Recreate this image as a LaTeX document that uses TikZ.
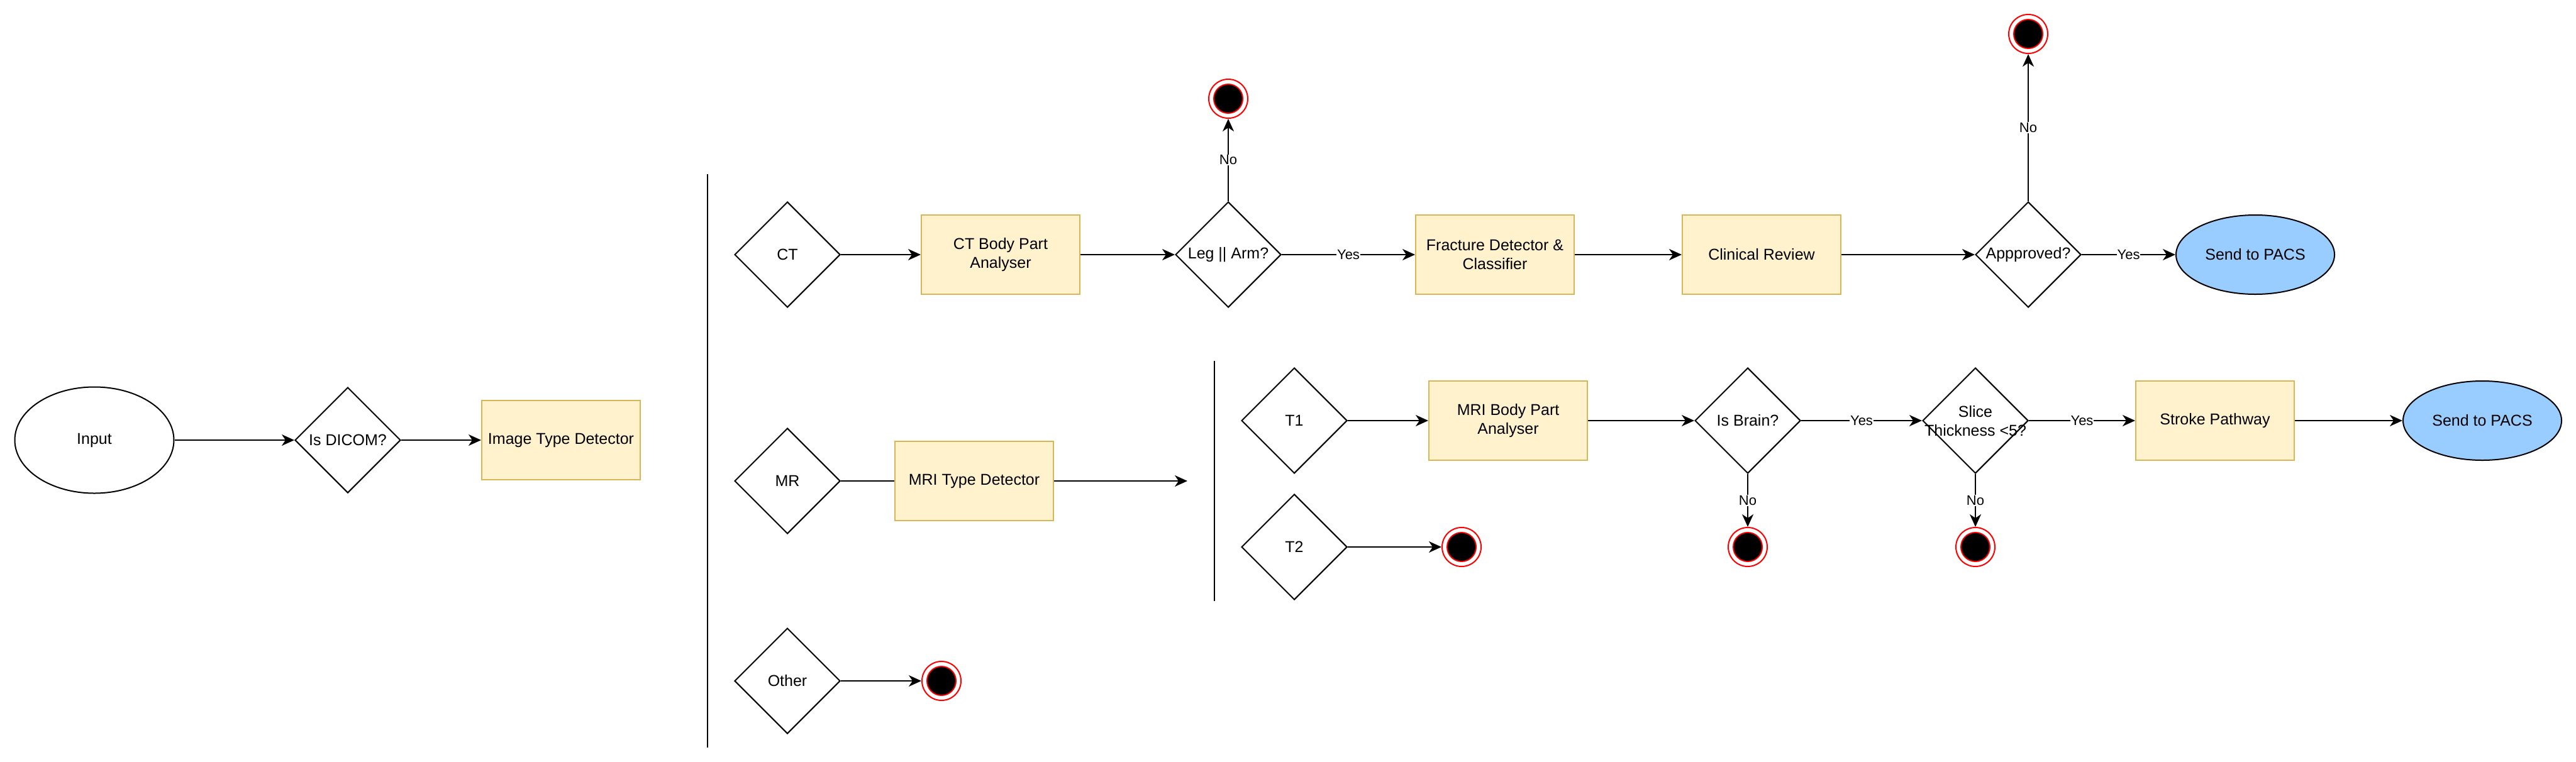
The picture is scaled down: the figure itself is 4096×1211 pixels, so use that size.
\documentclass[tikz,border=0pt]{standalone}
\usepackage{fontspec}
\setmainfont{Liberation Sans}
\usetikzlibrary{shapes.geometric,arrows.meta}
\definecolor{boxfill}{HTML}{FFF2CC}
\definecolor{boxline}{HTML}{D6B656}
\definecolor{pacsblue}{HTML}{99CCFF}
\definecolor{endred}{HTML}{FF0000}
\begin{document}
\begin{tikzpicture}[x=1pt,y=-1pt,
  every node/.style={font=\fontsize{25}{30}\selectfont},
  proc/.style={rectangle, draw=boxline, fill=boxfill, line width=2pt, minimum width=252pt, minimum height=126pt, inner sep=0pt, align=center},
  dec/.style={diamond, draw, line width=2pt, minimum width=168pt, minimum height=168pt, inner sep=0pt, align=center},
  term/.style={ellipse, draw, line width=2pt, inner sep=0pt, align=center},
  endst/.style={circle, draw=endred, fill=white, line width=2pt, minimum size=62pt, inner sep=0pt,
    path picture={\fill[endred] (path picture bounding box.center) circle (24pt);
                  \fill[black] (path picture bounding box.center) circle (22pt);}},
  flow/.style={line width=2pt, -{Stealth[length=20pt,width=18pt,inset=6pt]}},
  plain/.style={line width=2pt},
  lbl/.style={fill=white, inner sep=1pt, font=\fontsize{22}{26}\selectfont}
]
\useasboundingbox (0,0) rectangle (4096,1211);

% left part
\node[term, minimum width=253pt, minimum height=169pt] (input) at (150,700) {Input};
\node[dec] (dicom) at (553,700) {Is DICOM?};
\node[proc] (itd) at (892,700) {Image Type Detector};

% separators
\draw[plain] (1125,277) -- (1125,1189);
\draw[plain] (1931,574) -- (1931,956);

% CT row
\node[dec] (ct) at (1252,405) {CT};
\node[proc] (ctb) at (1591,405) {CT Body Part\\Analyser};
\node[dec] (leg) at (1953,405) {Leg || Arm?};
\node[endst] (end1) at (1953,157) {};
\node[proc] (frac) at (2377,405) {Fracture Detector \&\\Classifier};
\node[proc] (clin) at (2801,405) {Clinical Review};
\node[dec] (appr) at (3225,405) {Appproved?};
\node[endst] (end2) at (3225,54) {};
\node[term, fill=pacsblue, minimum width=252pt, minimum height=126pt] (pacs1) at (3586,405) {Send to PACS};

% MR row
\node[dec] (mr) at (1252,765) {MR};
\node[proc] (mrt) at (1549,765) {MRI Type Detector};
\coordinate (mrend) at (1888,765);

\node[dec] (t1) at (2058,669) {T1};
\node[proc] (mbp) at (2398,669) {MRI Body Part\\Analyser};
\node[dec] (brain) at (2779,669) {Is Brain?};
\node[endst] (end3) at (2779,870) {};
\node[dec] (slice) at (3141,669) {};
\node[endst] (end4) at (3141,870) {};
\node[proc] (stroke) at (3522,669) {Stroke Pathway};
\node[term, fill=pacsblue, minimum width=252pt, minimum height=126pt] (pacs2) at (3947,669) {Send to PACS};

\node[dec] (t2) at (2058,870) {T2};
\node[endst] (end5) at (2324,870) {};

% Other row
\node[dec] (other) at (1252,1083) {Other};
\node[endst] (end6) at (1497,1083) {};

% connectors
\draw[flow] (input) -- (dicom);
\draw[flow] (dicom) -- (itd);

\draw[flow] (ct) -- (ctb);
\draw[flow] (ctb) -- (leg);
\draw[flow] (leg) -- node[lbl] {Yes} (frac);
\draw[flow] (leg) -- node[lbl] {No} (end1);
\draw[flow] (frac) -- (clin);
\draw[flow] (clin) -- (appr);
\draw[flow] (appr) -- node[lbl] {Yes} (pacs1);
\draw[flow] (appr) -- node[lbl] {No} (end2);

\draw[plain] (mr) -- (mrt);
\draw[flow] (mrt) -- (mrend);

\draw[flow] (t1) -- (mbp);
\draw[flow] (mbp) -- (brain);
\draw[flow] (brain) -- node[lbl] {Yes} (slice);
\draw[flow] (brain) -- node[lbl] {No} (end3);
\draw[flow] (slice) -- node[lbl] {Yes} (stroke);
\draw[flow] (slice) -- node[lbl] {No} (end4);
\draw[flow] (stroke) -- (pacs2);

\draw[flow] (t2) -- (end5);
\draw[flow] (other) -- (end6);

% text of the slice decision (overflows its diamond)
\node[align=center, inner sep=0pt] (slicetext) at (3141,670) {Slice\\Thickness <5?};
\end{tikzpicture}
\end{document}
